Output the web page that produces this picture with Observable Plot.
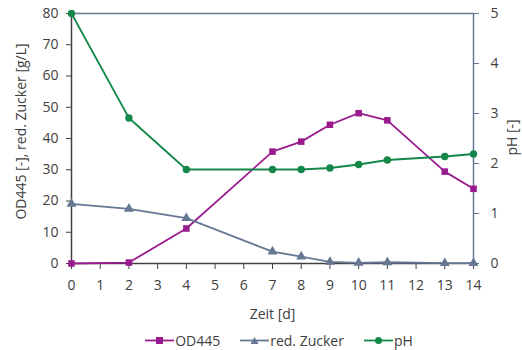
<!DOCTYPE html>
<html><head><meta charset="utf-8">
<script src="https://cdn.jsdelivr.net/npm/d3@7"></script>
<script src="https://cdn.jsdelivr.net/npm/@observablehq/plot@0.6"></script>
<style>
body{margin:0;background:#fff;font-family:"Open Sans",sans-serif;}
#legend{display:flex;justify-content:center;gap:20px;font-size:14px;color:#404040;height:28px;align-items:center;margin-left:36px;margin-top:4px;}
#legend span{display:flex;align-items:center;gap:1px}
</style></head><body>
<div id="chart"></div>
<div id="legend"></div>
<script>
const days = [0, 2, 4, 7, 8, 9, 10, 11, 13, 14];
const od445 = [0, 0.3, 11.2, 35.8, 39.0, 44.4, 48.1, 45.8, 29.4, 23.9];
const zucker = [19.1, 17.5, 14.5, 3.8, 2.2, 0.5, 0.2, 0.4, 0.1, 0.1];
const ph = [5.0, 2.91, 1.88, 1.88, 1.88, 1.91, 1.98, 2.07, 2.14, 2.19];
const seriesNames = ["OD445", "red. Zucker", "pH"];
const colors = ["#991b8d", "#667793", "#14884a"];
const symbols = ["square", "triangle", "circle"];
const xTicks = d3.range(0, 15);
const leftTicks = [0, 10, 20, 30, 40, 50, 60, 70, 80];
const rightTicks = [0, 1, 2, 3, 4, 5];
const k = 80 / 5;

const data = [];
days.forEach((d, i) => {
  data.push({x: d, y: od445[i], s: "OD445"});
  data.push({x: d, y: zucker[i], s: "red. Zucker"});
  data.push({x: d, y: ph[i] * k, s: "pH"});
});

const plot = Plot.plot({
  width: 522, height: 322,
  marginLeft: 71, marginRight: 49, marginTop: 13, marginBottom: 59,
  style: {fontFamily: "'Open Sans', sans-serif", fontSize: "14px", color: "#404040"},
  x: {domain: [0, 14]},
  y: {domain: [0, 80]},
  color: {domain: seriesNames, range: colors},
  symbol: {domain: seriesNames, range: symbols},
  marks: [
    Plot.ruleY([80], {stroke: "#667793", strokeWidth: 1.5}),
    Plot.ruleX([14], {stroke: "#667793", strokeWidth: 1.5}),
    Plot.axisX({ticks: xTicks, tickSize: 6, tickPadding: 11, fontSize: 14, label: null, stroke: "#404040"}),
    Plot.axisY({ticks: leftTicks, tickSize: 5, tickPadding: 8, fontSize: 14, label: null, stroke: "#404040"}),
    Plot.axisY({anchor: "right", ticks: rightTicks.map(v => v * k), tickFormat: v => v / k, tickSize: 5, tickPadding: 12, fontSize: 14, stroke: "#667793", label: null}),
    Plot.text(["Zeit [d]"], {frameAnchor: "bottom", dy: 55, fontSize: 14, fill: "#404040"}),
    Plot.text(["OD445 [-], red. Zucker [g/L]"], {frameAnchor: "left", textAnchor: "middle", dx: -50, dy: -7, rotate: -90, fontSize: 14, fill: "#404040"}),
    Plot.text(["pH [-]"], {frameAnchor: "right", textAnchor: "middle", dx: 39, dy: -1, rotate: -90, fontSize: 14, fill: "#404040"}),
    Plot.ruleX([0], {stroke: "#404040", strokeWidth: 1.5}),
    Plot.ruleY([0], {stroke: "#404040", strokeWidth: 1.5}),
    Plot.line(data, {x: "x", y: "y", z: "s", stroke: "s", strokeWidth: 1.8}),
    Plot.dot(data, {x: "x", y: "y", fill: "s", symbol: "s", r: 3.7, stroke: "none"})
  ]
});
document.getElementById("chart").appendChild(plot);

const lg = document.getElementById("legend");
seriesNames.forEach((n, i) => {
  const sp = document.createElement("span");
  const sym = symbols[i] === "square" ? `<rect x="11" y="3" width="7" height="7" fill="${colors[i]}"/>` :
    symbols[i] === "triangle" ? `<path d="M14.5,3 L18.5,10 L10.5,10 Z" fill="${colors[i]}"/>` :
    `<circle cx="14.5" cy="6.5" r="3.5" fill="${colors[i]}"/>`;
  sp.innerHTML = `<svg width="29" height="13"><line x1="0" x2="29" y1="6.5" y2="6.5" stroke="${colors[i]}" stroke-width="1.8"/>${sym}</svg>${n}`;
  lg.appendChild(sp);
});
</script>
</body></html>
